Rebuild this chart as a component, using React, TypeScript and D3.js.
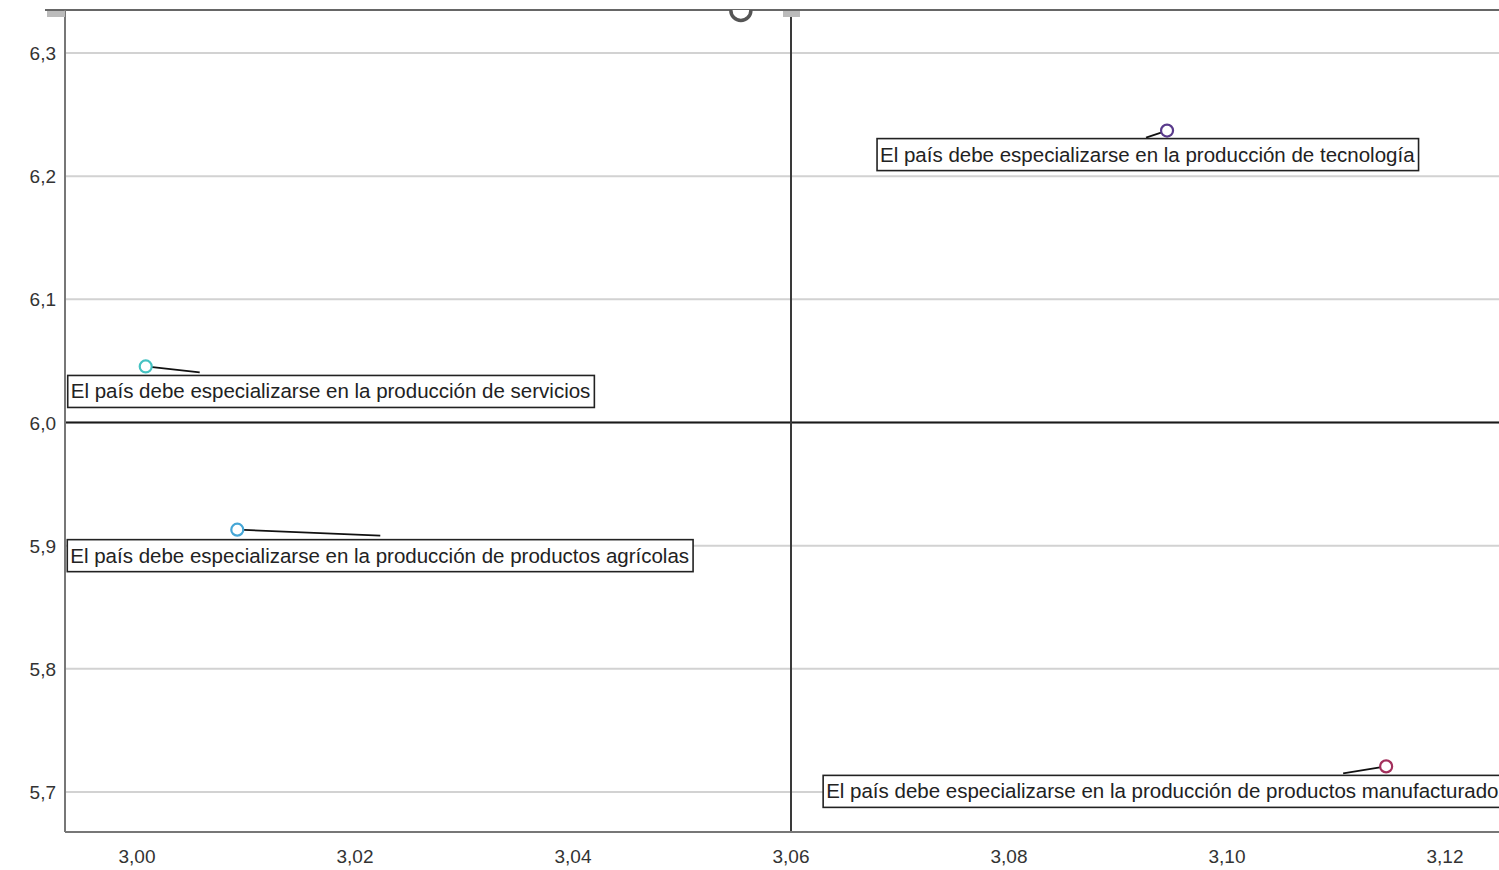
import React, { useEffect, useRef } from "react";
import * as d3 from "d3";

const labels = [
  "El país debe especializarse en la producción de tecnología",
  "El país debe especializarse en la producción de servicios",
  "El país debe especializarse en la producción de productos agrícolas",
  "El país debe especializarse en la producción de productos manufacturados",
];
const xValues = [3.0945, 3.0008, 3.0092, 3.1146];
const yValues = [6.237, 6.0455, 5.913, 5.7208];
const colors = ["#5a3b8c", "#45c2c2", "#45a6d6", "#a3305c"];
// label box offsets (px) relative to point, and leader end offsets
const boxDx = [-290, -78, -170, -563];
const boxDy = [8, 9, 10, 9];
const leadDx = [-21, 54, 143, -43];
const leadDy = [7, 6, 6, 7];

const xTicks = [3.0, 3.02, 3.04, 3.06, 3.08, 3.1, 3.12];
const yTicks = [5.7, 5.8, 5.9, 6.0, 6.1, 6.2, 6.3];
const refX = 3.06;
const refY = 6.0;
// partially hidden point at top edge
const topPoint = { x: 3.0554, y: 6.3345 };

const W = 1499;
const H = 870;
const left = 65;
const right = 1499;
const top = 10;
const bottom = 832;

const fmt = (v: number, d: number) => v.toFixed(d).replace(".", ",");

export default function App() {
  const ref = useRef<SVGSVGElement>(null);
  const x = d3.scaleLinear().domain([3.0, 3.12]).range([137, 1445]);
  const y = d3.scaleLinear().domain([5.7, 6.3]).range([792, 53]);

  useEffect(() => {
    document.body.style.margin = "0";
    const svg = d3.select(ref.current);
    svg.selectAll("g.lbl").each(function () {
      const g = d3.select(this as SVGGElement);
      const t = g.select<SVGTextElement>("text").node();
      if (!t) return;
      const w = t.getComputedTextLength();
      g.select("rect").attr("width", w + 7);
    });
  }, []);

  const font = "'Liberation Sans', Arial, sans-serif";

  return (
    <svg ref={ref} width={W} height={H} style={{ display: "block", background: "#fff" }}>
      <rect x={0} y={0} width={W} height={H} fill="#fff" />
      {/* gridlines */}
      {yTicks.map((t) => (
        <line key={"g" + t} x1={left} x2={right} y1={y(t)} y2={y(t)} stroke="#d2d2d2" strokeWidth={2} />
      ))}
      {/* reference lines */}
      <line x1={left} x2={right} y1={y(refY)} y2={y(refY)} stroke="#1a1a1a" strokeWidth={2} />
      <line x1={x(refX)} x2={x(refX)} y1={top} y2={bottom} stroke="#3a3a3a" strokeWidth={2} />
      {/* frame */}
      <line x1={45} x2={right} y1={top} y2={top} stroke="#666" strokeWidth={2} />
      <line x1={left} x2={left} y1={top} y2={bottom} stroke="#777" strokeWidth={2} />
      <line x1={left} x2={right} y1={bottom} y2={bottom} stroke="#777" strokeWidth={2} />
      <rect x={47} y={top + 1} width={18} height={6} fill="#bbb" />
      <rect x={x(refX) - 8} y={top + 1} width={17} height={6} fill="#bbb" />
      {/* top clipped point */}
      <clipPath id="clipTop">
        <rect x={0} y={top} width={W} height={H} />
      </clipPath>
      <circle cx={x(topPoint.x)} cy={y(topPoint.y)} r={10} fill="#fff" stroke="#555" strokeWidth={3.5} clipPath="url(#clipTop)" />
      {/* tick labels */}
      {yTicks.map((t) => (
        <text key={"yt" + t} x={56} y={y(t) + 7} textAnchor="end" fontFamily={font} fontSize={19} fill="#333">
          {fmt(t, 1)}
        </text>
      ))}
      {xTicks.map((t) => (
        <text key={"xt" + t} x={x(t)} y={863} textAnchor="middle" fontFamily={font} fontSize={19} fill="#333">
          {fmt(t, 2)}
        </text>
      ))}
      {/* points and labels */}
      {labels.map((lab, i) => {
        const px = x(xValues[i]);
        const py = y(yValues[i]);
        const bx = px + boxDx[i];
        const by = py + boxDy[i];
        return (
          <g key={lab}>
            <line x1={px} y1={py} x2={px + leadDx[i]} y2={py + leadDy[i]} stroke="#111" strokeWidth={1.8} />
            <g className="lbl">
              <rect x={bx} y={by} width={500} height={32} fill="#fff" stroke="#222" strokeWidth={1.6} />
              <text x={bx + 3} y={by + 23} fontFamily={font} fontSize={20.5} fill="#222">
                {lab}
              </text>
            </g>
            <circle cx={px} cy={py} r={6} fill="#fff" stroke={colors[i]} strokeWidth={2.2} />
          </g>
        );
      })}
    </svg>
  );
}
